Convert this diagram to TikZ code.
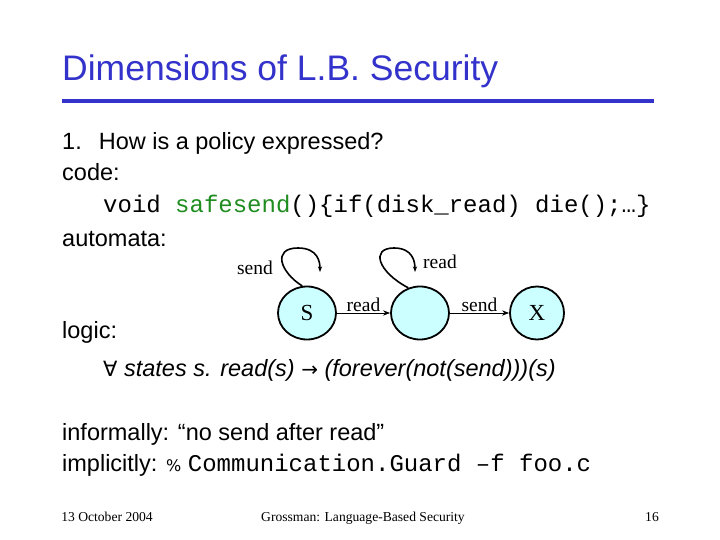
\documentclass[tikz,border=0pt]{standalone}
\usepackage{fontspec}
\setmainfont{Liberation Sans}
\setmonofont{Liberation Mono}
\newfontfamily\serifft{Liberation Serif}
\newfontfamily\symft{DejaVu Sans}
\usetikzlibrary{arrows.meta,positioning}
\definecolor{titleblue}{RGB}{51,51,204}
\definecolor{codegreen}{RGB}{30,140,30}
\definecolor{statefill}{RGB}{204,255,255}
\tikzset{
  txt/.style={anchor=base west,inner sep=0pt,font=\fontsize{23.5}{28}\selectfont},
  state/.style={ellipse,draw,line width=1.8pt,fill=statefill,minimum width=58pt,minimum height=53pt,inner sep=0pt,font=\serifft\fontsize{23}{28}\selectfont},
  lbl/.style={font=\serifft\fontsize{19.5}{22}\selectfont,inner sep=1pt},
  foot/.style={anchor=base,inner sep=0pt,font=\serifft\fontsize{13.6}{16}\selectfont}
}
\usetikzlibrary{shapes.geometric}
\begin{document}
\begin{tikzpicture}[x=1pt,y=-1pt]
	\useasboundingbox (0,0) rectangle (720,540);
	\node[txt,text=titleblue,font=\fontsize{35.5}{40}\selectfont] (title) at (62,81) {Dimensions of L.B. Security};
	\draw [titleblue,line width=3.5pt] (62,101) -- (654,101);
	\node[txt] (q1) at (62,150) {1.\hspace{17pt}How is a policy expressed?};
	\node[txt] (code) at (62,181) {code:};
	\node[txt,font=\ttfamily\fontsize{24}{28}\selectfont] (void) at (103,212) {void \textcolor{codegreen}{safesend}()\{if(disk\_read) die();…\}};
	\node[txt] (auto) at (62,246) {automata:};
	% automaton
	\node[state] (s) at (307,313) {S};
	\node[state] (m) at (420,313) {};
	\node[state,minimum width=54pt] (x) at (537,313) {X};
	\draw [line width=1pt,-{Stealth[length=2.5mm]}] (s) -- node[lbl,above]{read} (m);
	\draw [line width=1pt,-{Stealth[length=2.5mm]}] (m) -- node[lbl,above]{send} (x);
	\draw [line width=1.6pt,-{Stealth[length=2mm]}] (s.100) .. controls (280,272) and (272,248) .. (298,248) .. controls (318,248) and (320,262) .. (320,272);
	\draw [line width=1.6pt,-{Stealth[length=2mm]}] (m.115) .. controls (378,272) and (370,248) .. (394,248) .. controls (413,248) and (415,262) .. (415,272);
	\node[lbl] (ls) at (255,268) {send};
	\node[lbl] (lr) at (440,262) {read};
	\node[txt] (logic) at (62,338) {logic:};
	\node[txt] (forall) at (103,376) {{\symft\fontsize{21}{24}\selectfont ∀} \textit{states s. read(s) {\upshape\symft\fontsize{20}{24}\selectfont →} (forever(not(send)))(s)}};
	\node[txt] (inf) at (62,440) {informally: “no send after read”};
	\node[txt] (impl) at (62,471) {implicitly: {\symft\fontsize{16}{20}\selectfont\%} {\ttfamily\fontsize{24}{28}\selectfont Communication.Guard –f foo.c}};
	% footer
	\node[foot] (date) at (107,521) {13 October 2004};
	\node[foot] (auth) at (363,521) {Grossman: Language-Based Security};
	\node[foot] (page) at (652,521) {16};
\end{tikzpicture}
\end{document}
